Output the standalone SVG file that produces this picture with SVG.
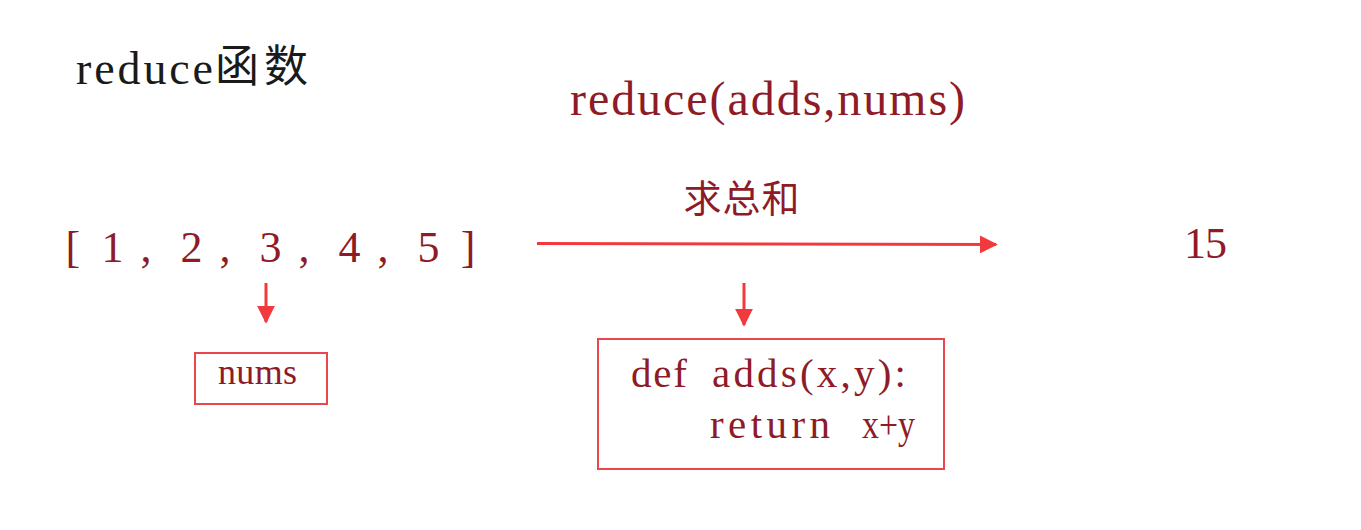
<svg xmlns="http://www.w3.org/2000/svg" width="1361" height="530" viewBox="0 0 1361 530">
<style>
.t{font-family:"Liberation Serif","Noto Sans CJK SC",serif;fill:#8e1b27}
.k{font-family:"Liberation Serif","Noto Sans CJK SC",serif;fill:#1a1a1a}
.m{text-anchor:middle}
.cjk{font-family:"Noto Sans CJK SC",sans-serif}
.box{fill:none;stroke:#e8474c;stroke-width:2}
.ar{stroke:#f23a3e;fill:none}
</style>
<defs>
<marker id="ah" viewBox="0 0 10 10" refX="9" refY="5" markerWidth="18" markerHeight="18" markerUnits="userSpaceOnUse" orient="auto"><path d="M0,0L10,5L0,10Z" fill="#f23a3e"/></marker>
</defs>
<g id="title">
<text class="k" font-size="46" x="76" y="84" textLength="137">reduce</text>
<text class="k cjk m" font-size="44" y="82" x="237 286">函数</text>
</g>
<g id="call"><text class="t" font-size="48" x="570" y="115" textLength="395">reduce(adds,nums)</text></g>
<g id="label"><text class="t cjk m" font-size="38" y="212" x="702.5 741.5 780.5">求总和</text></g>
<g id="list"><text class="t m" font-size="44" y="262" x="72.9 112.4 146 191.4 225 270.5 304 349.5 383 428.6 468.1">[1,2,3,4,5]</text></g>
<g id="result"><text class="t" font-size="44" y="258" x="1184" textLength="43">15</text></g>
<g id="nums"><rect class="box" x="195" y="353" width="132" height="51"/><text class="t" font-size="36" x="218" y="384" textLength="79">nums</text></g>
<g id="adds"><rect class="box" x="598" y="339" width="346" height="130"/>
<text class="t" font-size="41" x="631" y="387" textLength="56">def</text>
<text class="t" font-size="41" x="712" y="387" textLength="194">adds(x,y):</text>
<text class="t" font-size="41" x="710" y="438" textLength="120">return</text>
<text class="t" font-size="41" x="862" y="438" textLength="53" lengthAdjust="spacingAndGlyphs">x+y</text>
</g>
<g id="connectors">
<path class="ar" d="M537,243.5L996,244.5" stroke-width="3" marker-end="url(#ah)"/>
<path class="ar" d="M266,283L266,322" stroke-width="3" marker-end="url(#ah)"/>
<path class="ar" d="M744,283L744,325" stroke-width="3" marker-end="url(#ah)"/>
</g>
</svg>
